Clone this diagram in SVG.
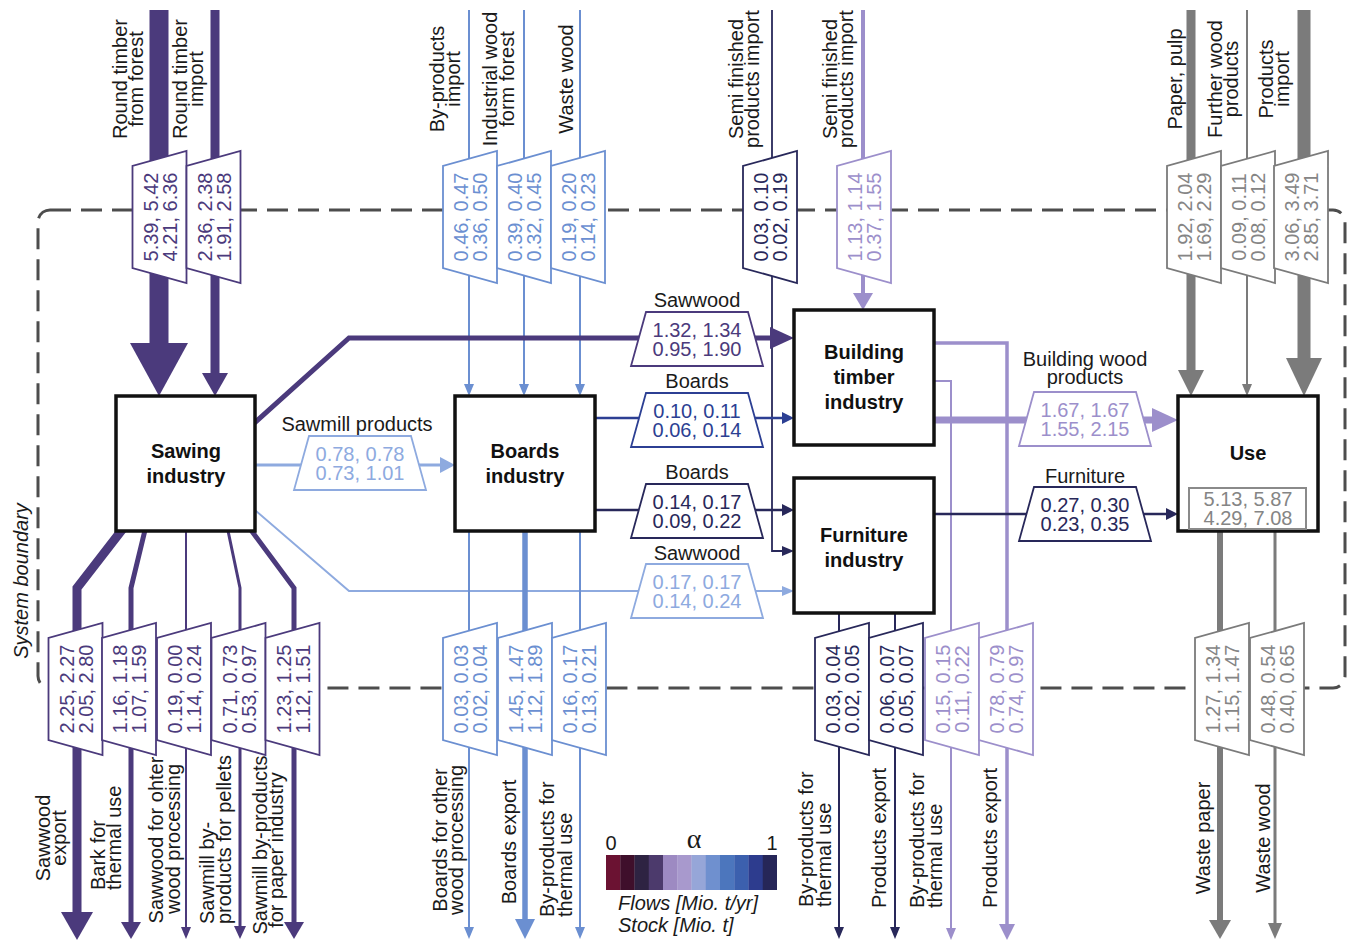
<svg xmlns="http://www.w3.org/2000/svg" width="1352" height="942" viewBox="0 0 1352 942">
<style>
text{font-family:"Liberation Sans",Arial,Helvetica,sans-serif}
.l{font-size:20px;fill:#1a1a1a;text-anchor:middle}
.s{text-anchor:start}
.n{font-size:20px;text-anchor:middle}
.t{font-size:20px;font-weight:bold;fill:#111;text-anchor:middle}
.bx{fill:#fff;stroke:#111;stroke-width:3.5}
.c{fill:none}
.z{fill:#fff;stroke-width:1.8}
.P{stroke:#4b3a7c}.fP{fill:#4b3a7c}
.LB{stroke:#8eaadf}.fLB{fill:#8eaadf}
.B{stroke:#6b8fd1}.fB{fill:#6b8fd1}
.N{stroke:#2c3f93}.fN{fill:#2c3f93}
.D{stroke:#28285a}.fD{fill:#28285a}
.LP{stroke:#9c8fcb}.fLP{fill:#9c8fcb}
.G{stroke:#7b7b7b}.fG{fill:#7b7b7b}
.tG{fill:#858585}
</style>
<defs>
<path id="tz" d="M-51,-27H51L66,27H-66Z"/>
</defs>
<rect x="0" y="0" width="1352" height="942" fill="#fff"/>

<g id="system-boundary">
<rect x="38" y="210" width="1307" height="478" rx="12" fill="none" stroke="#4d4d4d" stroke-width="3" stroke-dasharray="21 10"/>
<text class="l" style="font-style:italic" transform="translate(28,581) rotate(-90)">System boundary</text>
</g>

<g id="connectors">
<path class="c P" stroke-width="19" d="M159,10V345"/>
<polygon class="fP" points="130,343 188,343 159,396"/>
<path class="c P" stroke-width="9" d="M215,10V375"/>
<polygon class="fP" points="202,373 228,373 215,396"/>
<path class="c B" stroke-width="2" d="M469,10V386"/>
<polygon class="fB" points="464,384 474,384 469,396"/>
<path class="c B" stroke-width="2" d="M524,10V386"/>
<polygon class="fB" points="519,384 529,384 524,396"/>
<path class="c B" stroke-width="2" d="M580,10V386"/>
<polygon class="fB" points="575,384 585,384 580,396"/>
<path class="c D" stroke-width="1.8" d="M772,10V551H784"/>
<polygon class="fD" points="782,546 782,556 794,551"/>
<path class="c LP" stroke-width="4" d="M863,10V295"/>
<polygon class="fLP" points="853,293 873,293 863,310"/>
<path class="c G" stroke-width="9" d="M1191,10V372"/>
<polygon class="fG" points="1178,370 1204,370 1191,396"/>
<path class="c G" stroke-width="2" d="M1247,10V386"/>
<polygon class="fG" points="1242,384 1252,384 1247,396"/>
<path class="c G" stroke-width="13" d="M1304,10V360"/>
<polygon class="fG" points="1286,358 1322,358 1304,396"/>
<path class="c P" stroke-width="5" d="M250,427L349,338H773"/>
<polygon class="fP" points="770,327 770,349 794,338"/>
<path class="c LB" stroke-width="3" d="M250,465H442"/>
<polygon class="fLB" points="440,457 440,473 455,465"/>
<path class="c LB" stroke-width="2" d="M249,505L349,591H784"/>
<polygon class="fLB" points="782,586 782,596 794,591"/>
<path class="c N" stroke-width="2.5" d="M590,418H784"/>
<polygon class="fN" points="782,412 782,424 794,418"/>
<path class="c D" stroke-width="2.5" d="M590,510H784"/>
<polygon class="fD" points="782,504 782,516 794,510"/>
<path class="c LP" stroke-width="3.5" d="M930,343H1007V926"/>
<polygon class="fLP" points="999,924 1015,924 1007,940"/>
<path class="c LP" stroke-width="2" d="M930,381H951V930"/>
<polygon class="fLP" points="946,928 956,928 951,940"/>
<path class="c LP" stroke-width="7" d="M930,420H1154"/>
<polygon class="fLP" points="1152,408 1152,432 1178,420"/>
<path class="c D" stroke-width="2.5" d="M930,514H1168"/>
<polygon class="fD" points="1166,508 1166,520 1178,514"/>
<path class="c P" stroke-width="9" d="M125,526L77,588V914"/>
<polygon class="fP" points="61,912 93,912 77,940"/>
<path class="c P" stroke-width="5" d="M146,526L131,588V924"/>
<polygon class="fP" points="121,922 141,922 131,939"/>
<path class="c P" stroke-width="2" d="M186,526V929"/>
<polygon class="fP" points="181,927 191,927 186,939"/>
<path class="c P" stroke-width="3" d="M227,526L240,588V928"/>
<polygon class="fP" points="234,926 246,926 240,939"/>
<path class="c P" stroke-width="5" d="M248,526L294,588V924"/>
<polygon class="fP" points="284,922 304,922 294,939"/>
<path class="c B" stroke-width="2" d="M469,526V929"/>
<polygon class="fB" points="464,927 474,927 469,939"/>
<path class="c B" stroke-width="5.5" d="M525,526V921"/>
<polygon class="fB" points="515,919 535,919 525,939"/>
<path class="c B" stroke-width="2" d="M580,526V929"/>
<polygon class="fB" points="575,927 585,927 580,939"/>
<path class="c D" stroke-width="2" d="M839,608V929"/>
<polygon class="fD" points="834,927 844,927 839,939"/>
<path class="c D" stroke-width="2" d="M895,608V929"/>
<polygon class="fD" points="890,927 900,927 895,939"/>
<path class="c G" stroke-width="6" d="M1220,526V922"/>
<polygon class="fG" points="1209,920 1231,920 1220,939"/>
<path class="c G" stroke-width="3" d="M1275,526V925"/>
<polygon class="fG" points="1268,923 1282,923 1275,939"/>
</g>

<g id="flow-values">
<g transform="translate(159.5,217) rotate(-90)"><use href="#tz" class="z P"/><text class="n fP" y="-2">5.39, 5.42</text><text class="n fP" y="17">4.21, 6.36</text></g>
<g transform="translate(213.5,217) rotate(-90)"><use href="#tz" class="z P"/><text class="n fP" y="-2">2.36, 2.38</text><text class="n fP" y="17">1.91, 2.58</text></g>
<g transform="translate(470,217) rotate(-90)"><use href="#tz" class="z B"/><text class="n fB" y="-2">0.46, 0.47</text><text class="n fB" y="17">0.36, 0.50</text></g>
<g transform="translate(524,217) rotate(-90)"><use href="#tz" class="z B"/><text class="n fB" y="-2">0.39, 0.40</text><text class="n fB" y="17">0.32, 0.45</text></g>
<g transform="translate(578,217) rotate(-90)"><use href="#tz" class="z B"/><text class="n fB" y="-2">0.19, 0.20</text><text class="n fB" y="17">0.14, 0.23</text></g>
<g transform="translate(770,217) rotate(-90)"><use href="#tz" class="z D"/><text class="n fD" y="-2">0.03, 0.10</text><text class="n fD" y="17">0.02, 0.19</text></g>
<g transform="translate(864,217) rotate(-90)"><use href="#tz" class="z LP"/><text class="n fLP" y="-2">1.13, 1.14</text><text class="n fLP" y="17">0.37, 1.55</text></g>
<g transform="translate(1194,217) rotate(-90)"><use href="#tz" class="z G"/><text class="n tG" y="-2">1.92, 2.04</text><text class="n tG" y="17">1.69, 2.29</text></g>
<g transform="translate(1248,217) rotate(-90)"><use href="#tz" class="z G"/><text class="n tG" y="-2">0.09, 0.11</text><text class="n tG" y="17">0.08, 0.12</text></g>
<g transform="translate(1301,217) rotate(-90)"><use href="#tz" class="z G"/><text class="n tG" y="-2">3.06, 3.49</text><text class="n tG" y="17">2.85, 3.71</text></g>
<g transform="translate(697,339)"><use href="#tz" class="z P"/><text class="n fP" y="-2">1.32, 1.34</text><text class="n fP" y="17">0.95, 1.90</text></g>
<g transform="translate(360,463)"><use href="#tz" class="z LB"/><text class="n fLB" y="-2">0.78, 0.78</text><text class="n fLB" y="17">0.73, 1.01</text></g>
<g transform="translate(697,420)"><use href="#tz" class="z N"/><text class="n fN" y="-2">0.10, 0.11</text><text class="n fN" y="17">0.06, 0.14</text></g>
<g transform="translate(697,511)"><use href="#tz" class="z D"/><text class="n fD" y="-2">0.14, 0.17</text><text class="n fD" y="17">0.09, 0.22</text></g>
<g transform="translate(697,591)"><use href="#tz" class="z LB"/><text class="n fLB" y="-2">0.17, 0.17</text><text class="n fLB" y="17">0.14, 0.24</text></g>
<g transform="translate(1085,419)"><use href="#tz" class="z LP"/><text class="n fLP" y="-2">1.67, 1.67</text><text class="n fLP" y="17">1.55, 2.15</text></g>
<g transform="translate(1085,514)"><use href="#tz" class="z D"/><text class="n fD" y="-2">0.27, 0.30</text><text class="n fD" y="17">0.23, 0.35</text></g>
<g transform="translate(75.5,689) rotate(-90)"><use href="#tz" class="z P"/><text class="n fP" y="-2">2.25, 2.27</text><text class="n fP" y="17">2.05, 2.80</text></g>
<g transform="translate(129,689) rotate(-90)"><use href="#tz" class="z P"/><text class="n fP" y="-2">1.16, 1.18</text><text class="n fP" y="17">1.07, 1.59</text></g>
<g transform="translate(184,689) rotate(-90)"><use href="#tz" class="z P"/><text class="n fP" y="-2">0.19, 0.00</text><text class="n fP" y="17">1.14, 0.24</text></g>
<g transform="translate(238.5,689) rotate(-90)"><use href="#tz" class="z P"/><text class="n fP" y="-2">0.71, 0.73</text><text class="n fP" y="17">0.53, 0.97</text></g>
<g transform="translate(292.5,689) rotate(-90)"><use href="#tz" class="z P"/><text class="n fP" y="-2">1.23, 1.25</text><text class="n fP" y="17">1.12, 1.51</text></g>
<g transform="translate(470,689) rotate(-90)"><use href="#tz" class="z B"/><text class="n fB" y="-2">0.03, 0.03</text><text class="n fB" y="17">0.02, 0.04</text></g>
<g transform="translate(525,689) rotate(-90)"><use href="#tz" class="z B"/><text class="n fB" y="-2">1.45, 1.47</text><text class="n fB" y="17">1.12, 1.89</text></g>
<g transform="translate(579,689) rotate(-90)"><use href="#tz" class="z B"/><text class="n fB" y="-2">0.16, 0.17</text><text class="n fB" y="17">0.13, 0.21</text></g>
<g transform="translate(842,689) rotate(-90)"><use href="#tz" class="z D"/><text class="n fD" y="-2">0.03, 0.04</text><text class="n fD" y="17">0.02, 0.05</text></g>
<g transform="translate(896,689) rotate(-90)"><use href="#tz" class="z D"/><text class="n fD" y="-2">0.06, 0.07</text><text class="n fD" y="17">0.05, 0.07</text></g>
<g transform="translate(952,689) rotate(-90)"><use href="#tz" class="z LP"/><text class="n fLP" y="-2">0.15, 0.15</text><text class="n fLP" y="17">0.11, 0.22</text></g>
<g transform="translate(1006,689) rotate(-90)"><use href="#tz" class="z LP"/><text class="n fLP" y="-2">0.78, 0.79</text><text class="n fLP" y="17">0.74, 0.97</text></g>
<g transform="translate(1222,689) rotate(-90)"><use href="#tz" class="z G"/><text class="n tG" y="-2">1.27, 1.34</text><text class="n tG" y="17">1.15, 1.47</text></g>
<g transform="translate(1277,689) rotate(-90)"><use href="#tz" class="z G"/><text class="n tG" y="-2">0.48, 0.54</text><text class="n tG" y="17">0.40, 0.65</text></g>
</g>

<g id="flow-labels">
<text class="l" transform="translate(127,79) rotate(-90)">Round timber</text>
<text class="l" transform="translate(143,79) rotate(-90)">from forest</text>
<text class="l" transform="translate(187,79) rotate(-90)">Round timber</text>
<text class="l" transform="translate(203,79) rotate(-90)">import</text>
<text class="l" transform="translate(444,79) rotate(-90)">By-products</text>
<text class="l" transform="translate(460,79) rotate(-90)">import</text>
<text class="l" transform="translate(497,79) rotate(-90)">Industrial wood</text>
<text class="l" transform="translate(514,79) rotate(-90)">form forest</text>
<text class="l" transform="translate(573,79) rotate(-90)">Waste wood</text>
<text class="l" transform="translate(743,79) rotate(-90)">Semi finished</text>
<text class="l" transform="translate(759,79) rotate(-90)">products import</text>
<text class="l" transform="translate(837,79) rotate(-90)">Semi finished</text>
<text class="l" transform="translate(853,79) rotate(-90)">products import</text>
<text class="l" transform="translate(1182,79) rotate(-90)">Paper, pulp</text>
<text class="l" transform="translate(1222,79) rotate(-90)">Further wood</text>
<text class="l" transform="translate(1238,79) rotate(-90)">products</text>
<text class="l" transform="translate(1273,79) rotate(-90)">Products</text>
<text class="l" transform="translate(1289,79) rotate(-90)">import</text>
<text class="l" x="697" y="307">Sawwood</text>
<text class="l" x="697" y="388">Boards</text>
<text class="l" x="697" y="479">Boards</text>
<text class="l" x="697" y="560">Sawwood</text>
<text class="l" x="357" y="431">Sawmill products</text>
<text class="l" x="1085" y="366">Building wood</text>
<text class="l" x="1085" y="384">products</text>
<text class="l" x="1085" y="483">Furniture</text>
<text class="l" transform="translate(50,838) rotate(-90)">Sawwood</text>
<text class="l" transform="translate(66,838) rotate(-90)">export</text>
<text class="l s" transform="translate(105,890) rotate(-90)">Bark for</text>
<text class="l s" transform="translate(121,890) rotate(-90)">thermal use</text>
<text class="l" transform="translate(163,840) rotate(-90)">Sawwood for ohter</text>
<text class="l" transform="translate(180,839) rotate(-90)">wood processing</text>
<text class="l s" transform="translate(214,924) rotate(-90)">Sawmill by-</text>
<text class="l s" transform="translate(231,924) rotate(-90)">products for pellets</text>
<text class="l" transform="translate(267,845) rotate(-90)">Sawmill by-products</text>
<text class="l" transform="translate(283,850) rotate(-90)">for paper industry</text>
<text class="l" transform="translate(447,840) rotate(-90)">Boards for other</text>
<text class="l" transform="translate(463,840) rotate(-90)">wood processing</text>
<text class="l" transform="translate(516,842) rotate(-90)">Boards export</text>
<text class="l s" transform="translate(554,917) rotate(-90)">By-products for</text>
<text class="l s" transform="translate(572,917) rotate(-90)">thermal use</text>
<text class="l s" transform="translate(813,907) rotate(-90)">By-products for</text>
<text class="l s" transform="translate(831,907) rotate(-90)">thermal use</text>
<text class="l s" transform="translate(886,908) rotate(-90)">Products export</text>
<text class="l s" transform="translate(924,908) rotate(-90)">By-products for</text>
<text class="l s" transform="translate(942,908) rotate(-90)">thermal use</text>
<text class="l s" transform="translate(997,908) rotate(-90)">Products export</text>
<text class="l" transform="translate(1210,838) rotate(-90)">Waste paper</text>
<text class="l" transform="translate(1270,838) rotate(-90)">Waste wood</text>
</g>

<g id="sawing-industry">
<rect class="bx" x="116" y="396" width="139" height="135"/>
<text class="t" x="186" y="458">Sawing</text>
<text class="t" x="186" y="483">industry</text>
</g>
<g id="boards-industry">
<rect class="bx" x="455" y="396" width="140" height="135"/>
<text class="t" x="525" y="458">Boards</text>
<text class="t" x="525" y="483">industry</text>
</g>
<g id="building-timber-industry">
<rect class="bx" x="794" y="310" width="140" height="135"/>
<text class="t" x="864" y="359">Building</text>
<text class="t" x="864" y="384">timber</text>
<text class="t" x="864" y="409">industry</text>
</g>
<g id="furniture-industry">
<rect class="bx" x="794" y="478" width="140" height="135"/>
<text class="t" x="864" y="542">Furniture</text>
<text class="t" x="864" y="567">industry</text>
</g>
<g id="use">
<rect class="bx" x="1178" y="396" width="140" height="135"/>
<text class="t" x="1248" y="460">Use</text>
<rect x="1189" y="488" width="117" height="41" fill="#fff" stroke="#8a8a8a" stroke-width="2"/>
<text class="n tG" x="1248" y="506">5.13, 5.87</text>
<text class="n tG" x="1248" y="525">4.29, 7.08</text>
</g>

<g id="legend">
<text x="611" y="850" font-size="20" text-anchor="middle" fill="#1a1a1a">0</text>
<text x="694" y="848" font-size="28" text-anchor="middle" fill="#1a1a1a" style="font-family:'Liberation Serif',serif">α</text>
<text x="772" y="850" font-size="20" text-anchor="middle" fill="#1a1a1a">1</text>
<rect x="606" y="855" width="14.5" height="35" fill="#6b1232"/>
<rect x="620.25" y="855" width="14.5" height="35" fill="#3f0f2b"/>
<rect x="634.5" y="855" width="14.5" height="35" fill="#2e2342"/>
<rect x="648.75" y="855" width="14.5" height="35" fill="#4c3a6c"/>
<rect x="663" y="855" width="14.5" height="35" fill="#9d8ac2"/>
<rect x="677.25" y="855" width="14.5" height="35" fill="#a899cd"/>
<rect x="691.5" y="855" width="14.5" height="35" fill="#96a6d8"/>
<rect x="705.75" y="855" width="14.5" height="35" fill="#6f90cf"/>
<rect x="720" y="855" width="14.5" height="35" fill="#4c76bd"/>
<rect x="734.25" y="855" width="14.5" height="35" fill="#3c60ae"/>
<rect x="748.5" y="855" width="14.5" height="35" fill="#2d3c8e"/>
<rect x="762.75" y="855" width="14.25" height="35" fill="#262658"/>
<text x="618" y="910" font-size="20" font-style="italic" fill="#1a1a1a">Flows [Mio. t/yr]</text>
<text x="618" y="932" font-size="20" font-style="italic" fill="#1a1a1a">Stock [Mio. t]</text>
</g>
</svg>
